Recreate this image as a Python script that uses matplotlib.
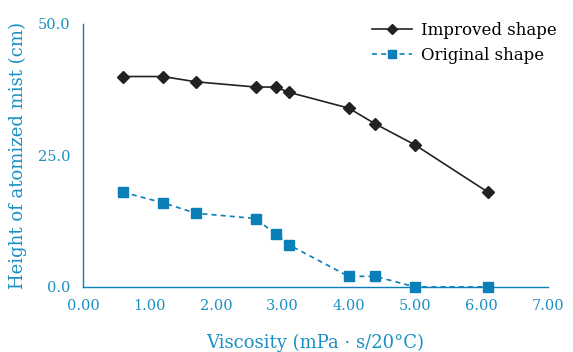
import matplotlib
matplotlib.use("Agg")
import matplotlib.pyplot as plt

# Dati
viscosity = [0.6, 1.2, 1.7, 2.6, 2.9, 3.1, 4.0, 4.4, 5.0, 6.1]
improved = [40, 40, 39, 38, 38, 37, 34, 31, 27, 18]
original = [18, 16, 14, 13, 10, 8, 2, 2, 0, 0]
x_ticks = [0, 1, 2, 3, 4, 5, 6, 7]
y_ticks = [0, 25, 50]

blue = "#0a7fb8"
text_blue = "#1a8fc4"

plt.rcParams["font.family"] = ["DejaVu Serif"]

fig = plt.figure(figsize=(5.73, 3.52), dpi=100)
ax = fig.add_axes([0.145, 0.185, 0.811, 0.747])

ax.plot(viscosity, improved, color="#222222", lw=1.2, marker="D", ms=6,
        label="Improved shape", clip_on=False, zorder=3)
ax.plot(viscosity, original, color=blue, lw=1.2, ls=(0, (3, 2.5)), marker="s", ms=7.5,
        label="Original shape", clip_on=False, zorder=3)

ax.set_xlim(0, 7)
ax.set_ylim(0, 50)
ax.set_xticks(x_ticks)
ax.set_xticklabels([f"{v:.2f}" for v in x_ticks])
ax.set_yticks(y_ticks)
ax.set_yticklabels([f"{v:.1f}" for v in y_ticks])
ax.tick_params(length=0, colors=text_blue, labelsize=10.5, pad=9)

for s in ["top", "right"]:
    ax.spines[s].set_visible(False)
for s in ["left", "bottom"]:
    ax.spines[s].set_color(blue)
    ax.spines[s].set_linewidth(1.0)

ax.set_xlabel("Viscosity (mPa \u00b7 s/20\u00b0C)", color=text_blue, fontsize=13, labelpad=15)
ax.set_ylabel("Height of atomized mist (cm)", color=text_blue, fontsize=13, labelpad=8)

leg = fig.legend(loc="upper right", bbox_to_anchor=(557 / 573, 1 - 22 / 352), frameon=False,
                 fontsize=12, handlelength=2.4, handletextpad=0.55, labelspacing=0.5,
                 borderpad=0, borderaxespad=0, markerscale=0.8)

fig.savefig("out.png", dpi=100)
